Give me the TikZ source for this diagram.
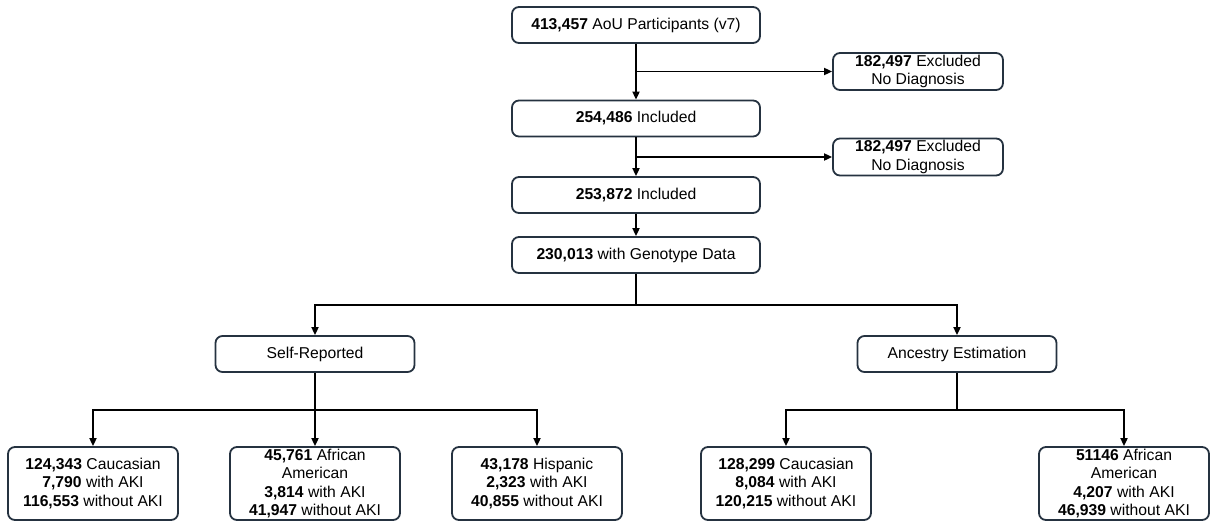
\documentclass[tikz,border=0pt]{standalone}
\usepackage{fontspec}
\setmainfont{Liberation Sans}
\usetikzlibrary{arrows.meta}
\definecolor{boxline}{HTML}{253240}

\begin{document}
\begin{tikzpicture}[x=1pt, y=-1pt, line width=1.8pt,
  box/.style={draw=boxline, rounded corners=7pt, align=center, inner sep=0pt,
    font=\fontsize{15.7}{18.3}\selectfont, minimum height=36},
  mainbox/.style={box, minimum width=248},
  exbox/.style={box, minimum width=170, minimum height=37},
  groupbox/.style={box, minimum width=199},
  leafbox/.style={box, minimum width=170, minimum height=73},
  arr/.style={-{Triangle[length=8pt,width=7pt]}}]

\useasboundingbox (0,0) rectangle (1210,522);

\node[mainbox] (aou) at (636,25) {\textbf{413,457} AoU Participants (v7)};
\node[mainbox] (inca) at (636,118.5) {\textbf{254,486} Included};
\node[mainbox] (incb) at (636,195) {\textbf{253,872} Included};
\node[mainbox] (geno) at (636,255) {\textbf{230,013} with Genotype Data};

\node[exbox] (exa) at (918,71.5) {\textbf{182,497} Excluded\\No Diagnosis};
\node[exbox] (exb) at (918,157) {\textbf{182,497} Excluded\\No Diagnosis};

\draw[arr] (aou) -- (inca);
\draw[arr] (aou |- exa) -- (exa);
\draw[arr] (inca) -- (incb);
\draw[arr] (inca |- exb) -- (exb);
\draw[arr] (incb) -- (geno);

\node[groupbox] (self) at (315,354) {Self-Reported};
\node[groupbox] (anc) at (957,354) {Ancestry Estimation};

\coordinate (split) at (636,305);
\draw (geno) -- (split);
\draw[arr] (split) -| (self);
\draw[arr] (split) -| (anc);

\node[leafbox] (srcau) at (93,483.5) {\textbf{124,343} Caucasian\\\textbf{7,790} with AKI\\\textbf{116,553} without AKI};
\node[leafbox] (sraa) at (315,483.5) {\textbf{45,761} African\\American\\\textbf{3,814} with AKI\\\textbf{41,947} without AKI};
\node[leafbox] (srhis) at (537,483.5) {\textbf{43,178} Hispanic\\\textbf{2,323} with AKI\\\textbf{40,855} without AKI};
\node[leafbox] (aecau) at (786,483.5) {\textbf{128,299} Caucasian\\\textbf{8,084} with AKI\\\textbf{120,215} without AKI};
\node[leafbox] (aeaa) at (1124,483.5) {\textbf{51146} African\\American\\\textbf{4,207} with AKI\\\textbf{46,939} without AKI};

\coordinate (selfsplit) at (315,410);
\draw[arr] (self) -- (sraa);
\draw[arr] (selfsplit) -| (srcau);
\draw[arr] (selfsplit) -| (srhis);

\coordinate (ancsplit) at (957,410);
\draw (anc) -- (ancsplit);
\draw[arr] (ancsplit) -| (aecau);
\draw[arr] (ancsplit) -| (aeaa);
\end{tikzpicture}
\end{document}
